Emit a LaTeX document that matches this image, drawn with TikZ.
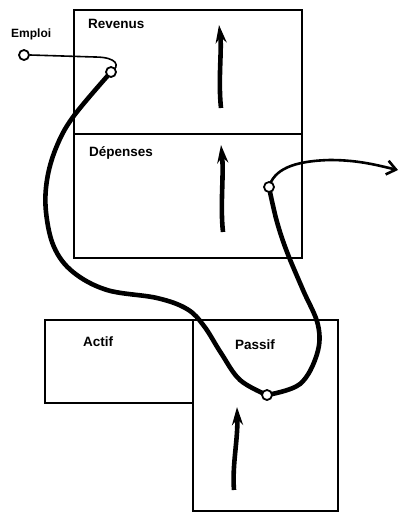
\documentclass[tikz,border=0pt]{standalone}
\usepackage{fontspec}
\setmainfont{Liberation Sans}
\usetikzlibrary{arrows.meta}
\begin{document}
\begin{tikzpicture}[x=1pt,y=-1pt,
  box/.style={draw, line width=2.2pt, minimum width=#1, anchor=north west, inner sep=0pt},
  lbl/.style={anchor=west, font=\bfseries\fontsize{13.5}{15}\selectfont, inner sep=0pt},
  ring/.style={circle, draw, line width=1.8pt, fill=white, minimum size=10pt, inner sep=0pt},
  flow/.style={line width=4.6pt, line cap=round},
  up/.style={line width=4.6pt, -{Stealth[length=18pt,width=11pt]}}]
\fill[white] (0,0) rectangle (400,512);
\useasboundingbox (0,0) rectangle (400,512);
% boxes
\node[box=228pt, minimum height=124pt] (rev) at (73,9) {};
\node[box=228pt, minimum height=124pt] (dep) at (73,133) {};
\node[box=148pt, minimum height=83pt] (act) at (44,319) {};
\node[box=145pt, minimum height=191pt] (pas) at (192,319) {};
% labels
\node[lbl] (trev) at (88,24) {Revenus};
\node[lbl] (tdep) at (89,153) {Dépenses};
\node[lbl] (tact) at (83,342) {Actif};
\node[lbl] (tpas) at (235,345) {Passif};
\node[lbl, font=\bfseries\fontsize{12}{13}\selectfont] (temp) at (11,34) {Emploi};
% ring positions
\coordinate (p1) at (111,72);
\coordinate (p2) at (269,187);
\coordinate (p3) at (267,395);
\node[circle, minimum size=12pt, inner sep=0pt] (e) at (24,55) {};
% thick flow
\draw[flow] plot[smooth, tension=0.6] coordinates {(p1) (73,117) (56,148) (47,180) (46,212) (54,247) (73,272) (107,290) (157,298) (187,309) (204,326) (221,353) (240,380) (267,395)};
\draw[flow] plot[smooth, tension=0.6] coordinates {(p3) (300,384) (317,354) (318,325) (303,290) (287,252) (277,222) (270,192)};
% thin emploi line
\draw[line width=1.6pt] (e.east) -- (95,57) .. controls (117,57) and (121,66) .. (p1);
% out arrow
\draw[line width=2.6pt, -{Straight Barb[length=9pt,width=14pt]}] (p2) .. controls (274,170) and (292,161) .. (330,160) .. controls (360,160) and (380,166) .. (398,170);
% rings
\node[ring] (r0) at (e) {};
\node[ring] (r1) at (p1) {};
\node[ring] (r2) at (p2) {};
\node[ring] (r3) at (p3) {};
% vertical arrows
\coordinate (a1s) at (221,108); \coordinate (a1e) at (219,25);
\coordinate (a2s) at (223,232); \coordinate (a2e) at (221,145);
\coordinate (a3s) at (234,490); \coordinate (a3e) at (237,407);
\draw[up] (a1s) .. controls (218,80) and (222,50) .. (a1e);
\draw[up] (a2s) .. controls (220,205) and (224,175) .. (a2e);
\draw[up] (a3s) .. controls (232,465) and (238,440) .. (a3e);
\end{tikzpicture}
\end{document}
